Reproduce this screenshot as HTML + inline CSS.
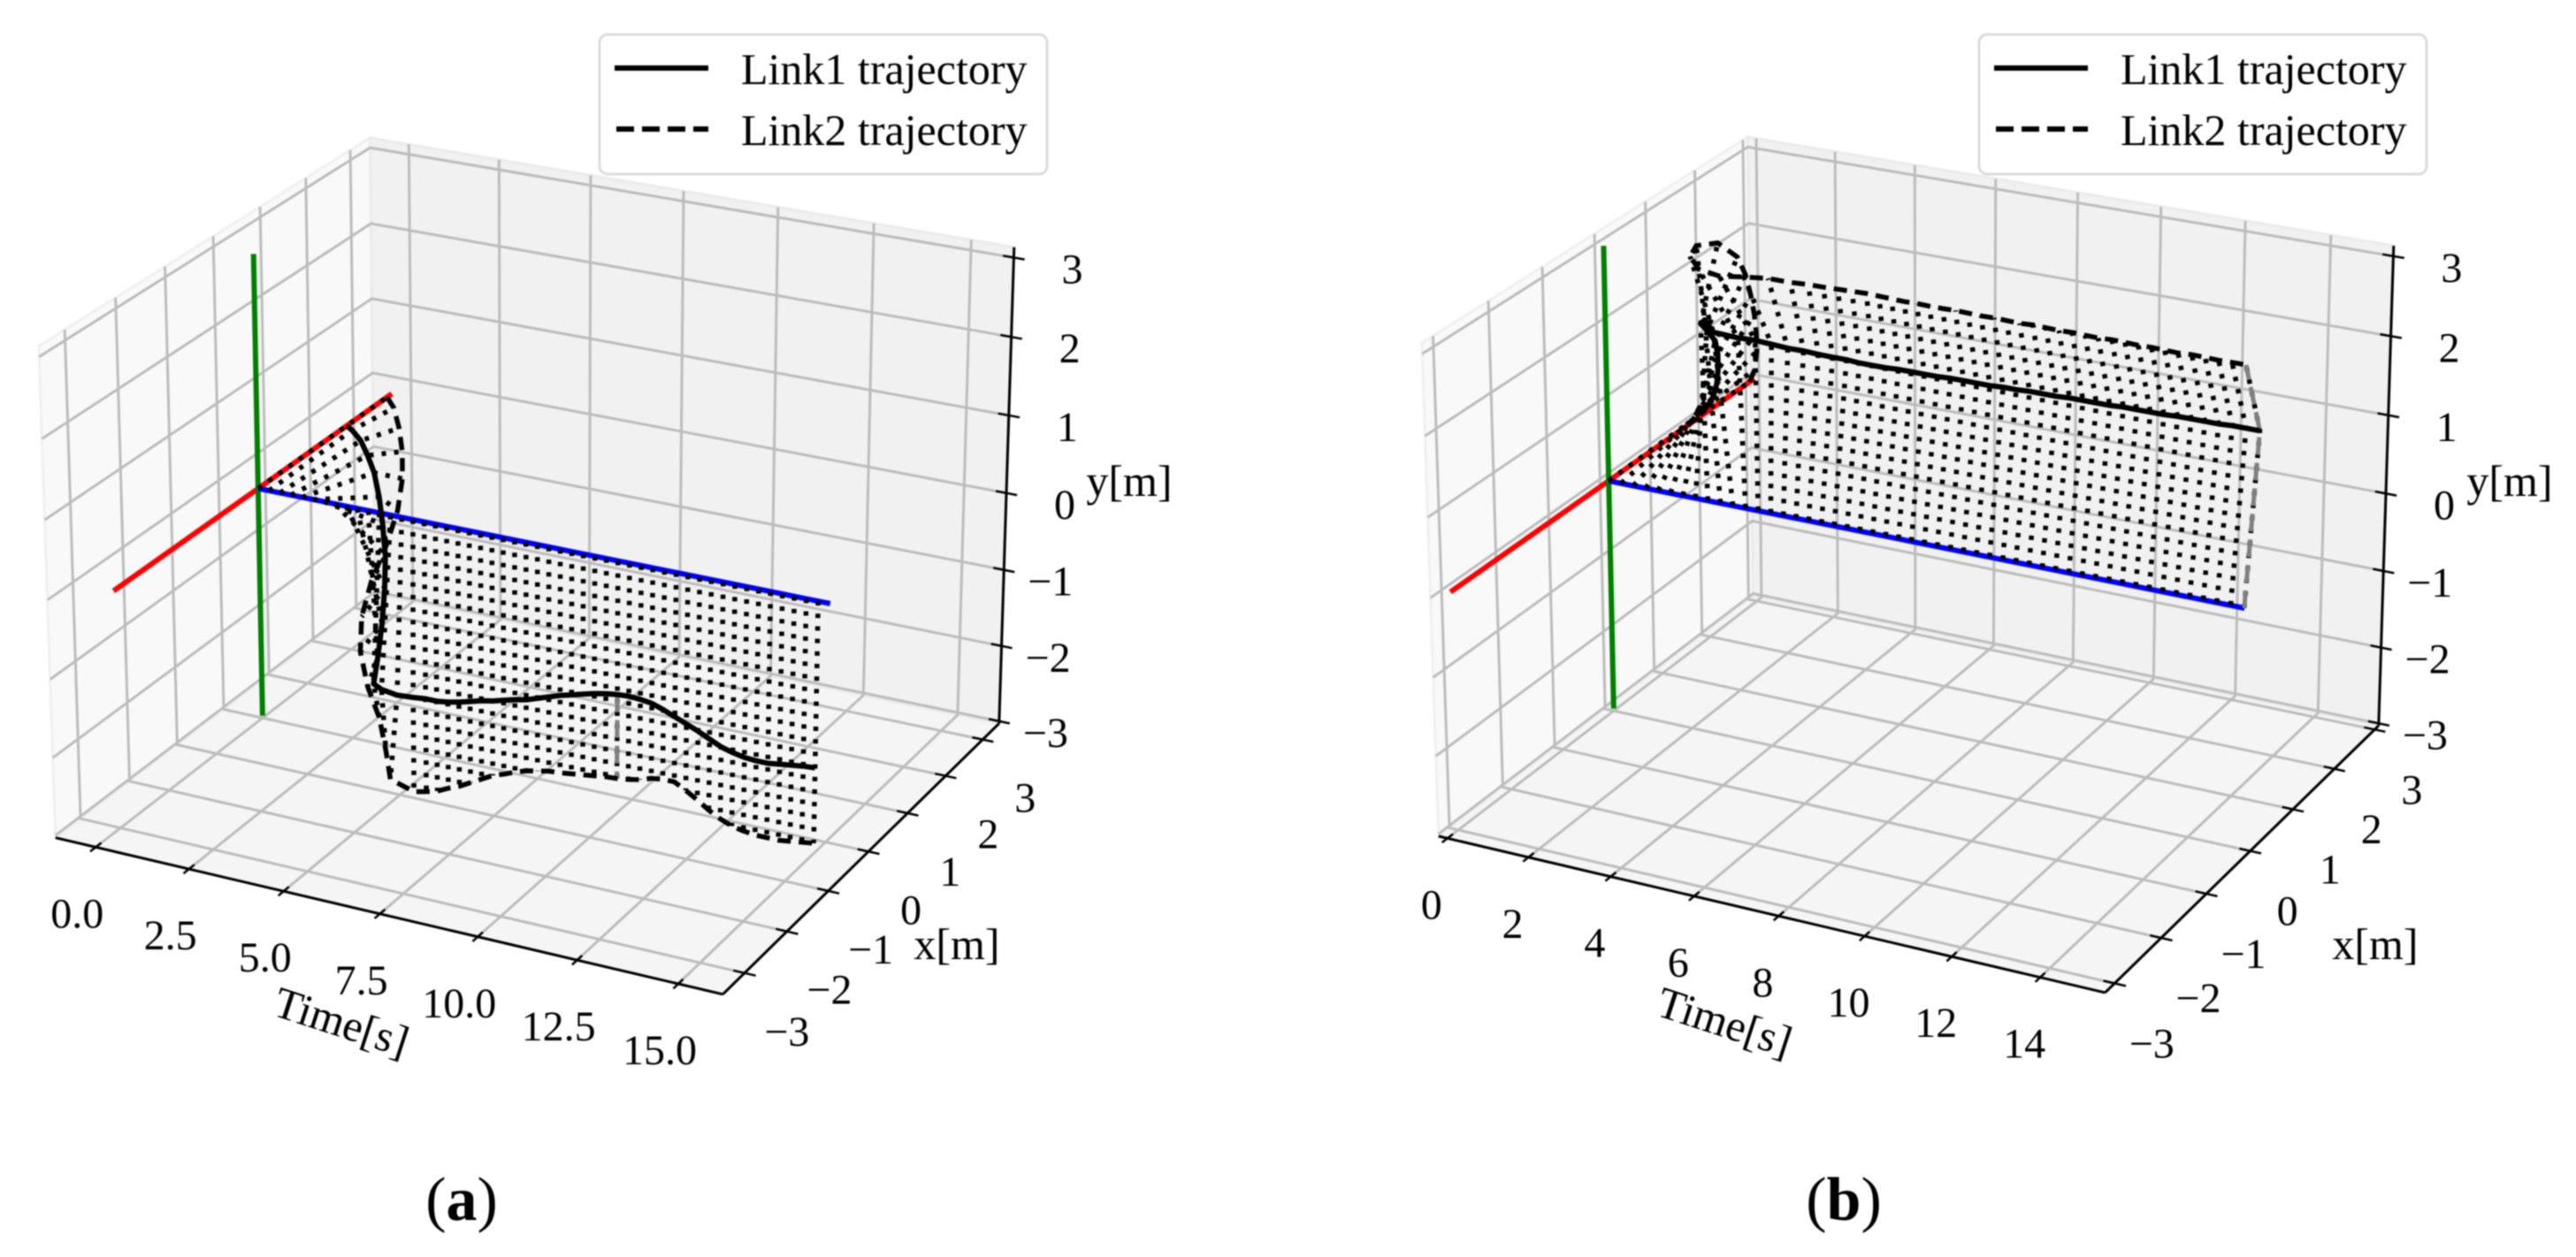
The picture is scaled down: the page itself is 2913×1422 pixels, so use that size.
<!DOCTYPE html>
<html>
<head>
<meta charset="utf-8">
<title>Link trajectories</title>
<style>
html,body{margin:0;padding:0;background:#fff;}
svg{display:block;filter:blur(0.8px);}
text{font-family:"Liberation Serif",serif;fill:#000;}
</style>
</head>
<body>
<svg id="figure" xmlns="http://www.w3.org/2000/svg" width="2913" height="1422" viewBox="0 0 2913 1422">
  <rect width="2913" height="1422" fill="#fff"/>
  <g id="panel-a"></g>
  <g id="panel-b"></g>

  <g>
    <rect x="678" y="39" width="506" height="158" rx="9" fill="#fff" fill-opacity="0.85" stroke="#dcdcdc" stroke-width="3"/>
    <line x1="695" y1="77" x2="801" y2="77" stroke="#000" stroke-width="6"/>
    <line x1="697" y1="146" x2="801" y2="146" stroke="#000" stroke-width="6" stroke-dasharray="20 9"/>
    <text x="838" y="95" font-size="50">Link1 trajectory</text>
    <text x="838" y="164" font-size="50">Link2 trajectory</text>
  </g>
  <g>
    <rect x="2238" y="39" width="506" height="158" rx="9" fill="#fff" fill-opacity="0.85" stroke="#dcdcdc" stroke-width="3"/>
    <line x1="2255" y1="77" x2="2361" y2="77" stroke="#000" stroke-width="6"/>
    <line x1="2257" y1="146" x2="2361" y2="146" stroke="#000" stroke-width="6" stroke-dasharray="20 9"/>
    <text x="2398" y="95" font-size="50">Link1 trajectory</text>
    <text x="2398" y="164" font-size="50">Link2 trajectory</text>
  </g>

  <text x="522" y="1380" font-size="70" text-anchor="middle">(<tspan font-weight="bold">a</tspan>)</text>
  <text x="2085" y="1380" font-size="70" text-anchor="middle">(<tspan font-weight="bold">b</tspan>)</text>
</svg>

<script>
/* ---------- Panel (a) data ---------- */
const timeA = [0,0.3,0.6,0.9,1.2,1.5,1.8,2.1,2.4,2.7,3.0,3.3,3.6,3.9,4.2,4.5,4.8,5.1,5.4,5.7,6.0,6.3,6.6,6.9,7.2,7.5,7.8,8.1,8.4,8.7,9.0,9.3,9.6,9.9,10.2,10.5,10.8,11.1,11.4,11.7,12.0,12.3,12.6,12.9,13.2,13.5,13.8,14.1,14.4,14.7];
const link1XA = [1.96,1.84,1.79,1.70,1.60,1.46,1.29,1.10,0.83,0.52,0.17,-0.17,-0.24,-0.14,-0.03,0,0,0,0,0,0,0,0,0,0,0,0,0,0,0,0,0,0,0,0,0,0,0,0,0,0,0,0,0,0,0,0,0,0,0];
const link1YA = [0,0.02,-0.07,-0.20,-0.36,-0.59,-0.85,-1.16,-1.44,-1.73,-2.00,-2.15,-2.16,-2.25,-2.30,-2.30,-2.30,-2.28,-2.25,-2.21,-2.17,-2.14,-2.10,-2.06,-2.03,-1.98,-1.93,-1.88,-1.84,-1.80,-1.76,-1.73,-1.71,-1.70,-1.71,-1.73,-1.78,-1.84,-1.90,-1.96,-2.03,-2.10,-2.14,-2.17,-2.18,-2.18,-2.16,-2.14,-2.12,-2.11];
const link2XA = [2.89,2.80,2.67,2.49,2.24,1.88,1.37,0.78,0.31,0.03,-0.06,-0.05,-0.16,-0.31,-0.03,0,0,0,0,0,0,0,0,0,0,0,0,0,0,0,0,0,0,0,0,0,0,0,0,0,0,0,0,0,0,0,0,0,0,0];
const link2YA = [0,-0.08,-0.27,-0.48,-0.71,-0.95,-1.16,-1.35,-1.58,-1.88,-2.27,-2.66,-3.00,-3.28,-3.55,-3.53,-3.49,-3.42,-3.36,-3.28,-3.20,-3.12,-3.07,-3.01,-2.96,-2.93,-2.90,-2.89,-2.87,-2.85,-2.83,-2.81,-2.80,-2.78,-2.75,-2.70,-2.68,-2.68,-2.76,-2.85,-2.95,-3.03,-3.09,-3.12,-3.14,-3.14,-3.14,-3.12,-3.10,-3.08];
const timeTicksA = [0,2.5,5,7.5,10,12.5,15];
const timeLabelsA = ["0.0","2.5","5.0","7.5","10.0","12.5","15.0"];

/* ---------- Panel (b) data ---------- */
const timeB = [0,0.31,0.62,0.93,1.24,1.55,1.86,2.17,2.48,2.79,3.10,3.41,3.72,4.03,4.34,4.65,4.96,5.27,5.58,5.89,6.20,6.51,6.82,7.13,7.44,7.75,8.06,8.37,8.68,8.99,9.30,9.61,9.92,10.23,10.54,10.85,11.16,11.47,11.78,12.09,12.40,12.71,13.02,13.33,13.64,13.95,14.26,14.57,14.88,15.19];
const link1XB = [1.88,1.76,1.63,1.46,1.24,0.99,0.69,0.28,-0.09,-0.26,-0.34,-0.11,-0.02,0.05,0.12,0.18,0.22,0.25,0.27,0.27,0.27,0.27,0.27,0.27,0.27,0.27,0.27,0.27,0.27,0.27,0.27,0.27,0.27,0.27,0.27,0.27,0.27,0.27,0.27,0.27,0.27,0.27,0.27,0.27,0.27,0.27,0.27,0.27,0.27,0.27];
const link1YB = [0.03,0.215,0.42,0.70,1.01,1.35,1.68,2.02,2.29,2.44,2.35,2.21,2.17,2.12,2.07,2.04,2.01,1.99,1.98,1.97,1.97,1.97,1.98,1.98,1.98,1.98,1.99,1.99,1.99,1.99,2.00,2.00,2.01,2.01,2.01,2.02,2.02,2.02,2.02,2.03,2.03,2.03,2.03,2.04,2.04,2.04,2.04,2.05,2.05,2.05];
const link2XB = [2.90,2.76,2.55,2.29,2.00,1.68,1.32,0.91,0.27,-0.40,-0.77,-0.86,-0.71,-0.48,-0.26,-0.07,0.03,0.07,0.10,0.13,0.16,0.15,0.14,0.13,0.12,0.11,0.11,0.10,0.09,0.08,0.07,0.06,0.05,0.05,0.04,0.03,0.02,0.01,0,0,-0.01,-0.02,-0.03,-0.04,-0.05,-0.05,-0.06,-0.07,-0.08,-0.08];
const link2YB = [0,0.26,0.62,1.00,1.40,1.81,2.26,2.68,3.15,3.42,3.47,3.38,3.26,3.18,3.10,3.00,2.96,2.94,2.93,2.92,2.91,2.91,2.91,2.91,2.92,2.92,2.92,2.93,2.93,2.93,2.94,2.94,2.94,2.95,2.95,2.95,2.96,2.96,2.96,2.97,2.97,2.97,2.98,2.98,2.98,2.99,2.99,2.99,3.00,3.00];
const timeTicksB = [0,2,4,6,8,10,12,14];
const timeLabelsB = ["0","2","4","6","8","10","12","14"];

/* ---------- Shared axis data ---------- */
const xTicks = [-3,-2,-1,0,1,2,3];
const xLabels = ["\u22123","\u22122","\u22121","0","1","2","3"];
const yTicks = [-3,-2,-1,0,1,2,3];
const yLabels = ["\u22123","\u22122","\u22121","0","1","2","3"];
const redX = [-3,3];
const greenY = [-3,3];
const blueTimeA = [0,15];
const blueTimeB = [0,15.2];

const NS = 'http://www.w3.org/2000/svg';
function mk(tag, attrs, parent){
  const el = document.createElementNS(NS, tag);
  for (const k in attrs) el.setAttribute(k, attrs[k]);
  parent.appendChild(el);
  return el;
}

/* Fit a projective camera (box coordinates -> pixels) from measured box corners */
function fitCamera(c){
  const S = 1000, A = [], B = [];
  c.forEach(p => {
    const [a,b,d,X0,Y0] = p, X = X0/S, Y = Y0/S;
    A.push([a,b,d,1,0,0,0,0,-X*a,-X*b,-X*d]); B.push(X);
    A.push([0,0,0,0,a,b,d,1,-Y*a,-Y*b,-Y*d]); B.push(Y);
  });
  const n = 11, M = [];
  for (let i=0;i<n;i++){
    M.push(new Array(n+1).fill(0));
    for (let j=0;j<n;j++) for (let r=0;r<A.length;r++) M[i][j]+=A[r][i]*A[r][j];
    for (let r=0;r<A.length;r++) M[i][n]+=A[r][i]*B[r];
  }
  for (let i=0;i<n;i++){
    let m=i;
    for (let r=i+1;r<n;r++) if (Math.abs(M[r][i])>Math.abs(M[m][i])) m=r;
    const tmp=M[i];M[i]=M[m];M[m]=tmp;
    for (let r=0;r<n;r++){
      if (r===i) continue;
      const f=M[r][i]/M[i][i];
      for (let j=i;j<=n;j++) M[r][j]-=f*M[i][j];
    }
  }
  const p=[];
  for (let i=0;i<n;i++) p.push(M[i][n]/M[i][i]);
  return (a,b,d)=>{
    const w=p[8]*a+p[9]*b+p[10]*d+1;
    return [S*(p[0]*a+p[1]*b+p[2]*d+p[3])/w, S*(p[4]*a+p[5]*b+p[6]*d+p[7])/w];
  };
}

function renderPanel(cfg){
  const g = document.getElementById(cfg.id);
  const cam = fitCamera([
    [0,0,0,cfg.lb[0],cfg.lb[1]],
    [1,0,0,cfg.fb[0],cfg.fb[1]],
    [1,1,0,cfg.rb[0],cfg.rb[1]],
    [0,0,1,cfg.lt[0],cfg.lt[1]],
    [0,1,1,cfg.bt[0],cfg.bt[1]],
    [1,1,1,cfg.rt[0],cfg.rt[1]]
  ]);
  const nt = t => (t-cfg.tLim[0])/(cfg.tLim[1]-cfg.tLim[0]);
  const nx = x => (x-cfg.xLim[0])/(cfg.xLim[1]-cfg.xLim[0]);
  const ny = y => (y-cfg.yLim[0])/(cfg.yLim[1]-cfg.yLim[0]);
  const P = (t,x,y) => cam(nt(t),nx(x),ny(y));
  const pts = arr => arr.map(q => q[0].toFixed(1)+','+q[1].toFixed(1)).join(' ');
  const poly3 = a => pts(a.map(q=>cam(q[0],q[1],q[2])));

  /* panes */
  const floor = mk('polygon',{points:poly3([[0,0,0],[1,0,0],[1,1,0],[0,1,0]]),fill:'#f5f5f5',stroke:'#f0f0f0','stroke-width':3},g);
  
  
  const left = mk('polygon',{points:poly3([[0,0,0],[0,1,0],[0,1,1],[0,0,1]]),fill:'#f9f9f9',stroke:'#f0f0f0','stroke-width':3},g);
  
  
  const back = mk('polygon',{points:poly3([[0,1,0],[1,1,0],[1,1,1],[0,1,1]]),fill:'#f1f1f1',stroke:'#ebebeb','stroke-width':3},g);
  
  

  /* grid */
  const gridStyle = {fill:'none',stroke:'#bcbcbc','stroke-width':3};
  cfg.tTicks.forEach(t=>{
    const n=nt(t);
    const l = mk('polyline',Object.assign({points:poly3([[n,0,0],[n,1,0],[n,1,1]])},gridStyle),g);
    
    
  });
  xTicks.forEach(x=>{
    const n=nx(x);
    const l = mk('polyline',Object.assign({points:poly3([[0,n,1],[0,n,0],[1,n,0]])},gridStyle),g);
    
    
  });
  yTicks.forEach(y=>{
    const n=ny(y);
    const l = mk('polyline',Object.assign({points:poly3([[0,0,n],[0,1,n],[1,1,n]])},gridStyle),g);
    
    
  });

  /* axes */
  const axisStyle = {fill:'none',stroke:'#000','stroke-width':3};
  const tAxis = mk('polyline',Object.assign({points:poly3([[0,0,0],[1,0,0]])},axisStyle),g);
  
  
  const xAxis = mk('polyline',Object.assign({points:poly3([[1,0,0],[1,1,0]])},axisStyle),g);
  
  
  const yAxis = mk('polyline',Object.assign({points:poly3([[1,1,0],[1,1,1]])},axisStyle),g);
  
  

  const FS = 48, d = 0.016, baseShift = 16;
  cfg.tTicks.forEach((t,i)=>{
    const n=nt(t);
    const tick = mk('polyline',{points:poly3([[n,-d,0],[n,d,0]]),stroke:'#000','stroke-width':2.5,fill:'none'},g);
    
    
    const c = cam(n,0,0);
    const lab = mk('text',{x:c[0]+cfg.tOff[0],y:c[1]+cfg.tOff[1]+baseShift,'font-size':FS,'text-anchor':'middle'},g);
    lab.textContent = cfg.tLabels[i];
    
    
  });
  xTicks.forEach((x,i)=>{
    const n=nx(x);
    const tick = mk('polyline',{points:poly3([[1-d,n,0],[1+d,n,0]]),stroke:'#000','stroke-width':2.5,fill:'none'},g);
    
    
    const c = cam(1,n,0);
    const lab = mk('text',{x:c[0]+cfg.xOff[0],y:c[1]+cfg.xOff[1]+baseShift,'font-size':FS,'text-anchor':'middle'},g);
    lab.textContent = xLabels[i];
    
    
  });
  yTicks.forEach((y,i)=>{
    const n=ny(y);
    const tick = mk('polyline',{points:poly3([[1-d,1,n],[1+d,1,n]]),stroke:'#000','stroke-width':2.5,fill:'none'},g);
    
    
    const c = cam(1,1,n);
    const lab = mk('text',{x:c[0]+78,y:c[1]+13+baseShift,'font-size':FS,'text-anchor':'end'},g);
    lab.textContent = yLabels[i];
    
    
  });

  /* axis titles */
  const yt = mk('text',{x:cfg.yTitle[0],y:cfg.yTitle[1],'font-size':50,'text-anchor':'middle'},g);
  yt.textContent='y[m]';
  
  
  const xt = mk('text',{x:cfg.xTitle[0],y:cfg.xTitle[1],'font-size':50,'text-anchor':'middle'},g);
  xt.textContent='x[m]';
  
  
  const tt = mk('text',{x:0,y:0,'font-size':50,'text-anchor':'middle',transform:'translate('+cfg.tTitle[0]+','+cfg.tTitle[1]+') rotate(18)'},g);
  tt.textContent='Time[s]';
  
  

  /* reference lines */
  const red = mk('polyline',{points:pts(redX.map(x=>P(0,x,0))),stroke:'#ff0000','stroke-width':6,fill:'none'},g);
  
  
  const green = mk('polyline',{points:pts(greenY.map(y=>P(0,0,y))),stroke:'#008000','stroke-width':6,fill:'none'},g);
  
  
  const blue = mk('polyline',{points:pts(cfg.blueT.map(t=>P(t,0,0))),stroke:'#0000ff','stroke-width':6,fill:'none'},g);
  
  

  /* dotted link poses, one per time sample */
  cfg.time.forEach((t,i)=>{
    const col = mk('polyline',{points:pts([P(t,0,0),P(t,cfg.l1x[i],cfg.l1y[i]),P(t,cfg.l2x[i],cfg.l2y[i])]),fill:'none',stroke:'#000','stroke-width':5.5,'stroke-dasharray':cfg.dots},g);
    
    
  });

  /* grey highlighted poses */
  cfg.greyPoses.forEach(k=>{
    const q = k.full
      ? [P(cfg.time[k.i],0,0),P(cfg.time[k.i],cfg.l1x[k.i],cfg.l1y[k.i]),P(cfg.time[k.i],cfg.l2x[k.i],cfg.l2y[k.i])]
      : [P(cfg.time[k.i],cfg.l1x[k.i],cfg.l1y[k.i]),P(cfg.time[k.i],cfg.l2x[k.i],cfg.l2y[k.i])];
    const gp = mk('polyline',{points:pts(q),fill:'none',stroke:'#808080','stroke-width':5,'stroke-dasharray':'20 9'},g);
    
    
  });

  /* trajectories */
  const t1 = mk('polyline',{points:pts(cfg.time.map((t,i)=>P(t,cfg.l1x[i],cfg.l1y[i]))),fill:'none',stroke:'#000','stroke-width':6,'stroke-linejoin':'round'},g);
  
  
  const t2 = mk('polyline',{points:pts(cfg.time.map((t,i)=>P(t,cfg.l2x[i],cfg.l2y[i]))),fill:'none',stroke:'#000','stroke-width':5.5,'stroke-dasharray':'15 9'},g);
  
  
}

renderPanel({
  id:'panel-a',
  lb:[63,948],fb:[817,1125],rb:[1130,818],lt:[44,391],bt:[418,156],rt:[1147,280],
  tLim:[-1.09,16.09],xLim:[-3.5,3.45],yLim:[-3.03,3.13],
  tTicks:timeTicksA,tLabels:timeLabelsA,
  tOff:[-21,75],xOff:[48,66],
  yTitle:[1277,561],xTitle:[1082,1085],tTitle:[381,1172],
  blueT:blueTimeA,dots:'5 9.2',
  time:timeA,l1x:link1XA,l1y:link1YA,l2x:link2XA,l2y:link2YA,
  greyPoses:[{i:32,full:false}]
});
renderPanel({
  id:'panel-b',
  lb:[1628,948],fb:[2378,1124],rb:[2691,818],lt:[1609,385],bt:[1974,156],rt:[2708,280],
  tLim:[-0.22,15.45],xLim:[-3.2,3.1],yLim:[-3.03,3.13],
  tTicks:timeTicksB,tLabels:timeLabelsB,
  tOff:[-18,75],xOff:[42,68],
  yTitle:[2838,561],xTitle:[2686,1085],tTitle:[1945,1172],
  blueT:blueTimeB,dots:'5 9.2',
  time:timeB,l1x:link1XB,l1y:link1YB,l2x:link2XB,l2y:link2YB,
  greyPoses:[{i:49,full:true}]
});
</script>
</body>
</html>
